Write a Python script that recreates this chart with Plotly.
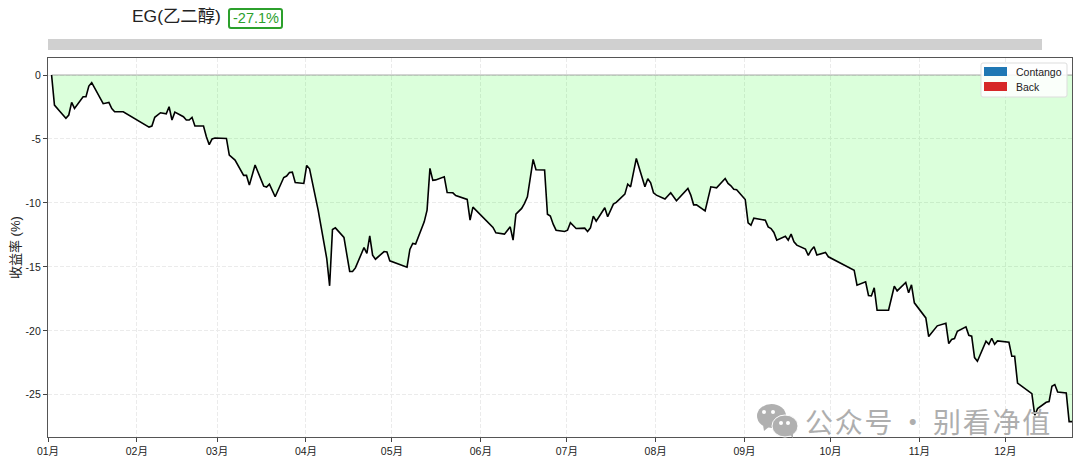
import pandas as pd
import plotly.graph_objects as go

YEAR_START = "2025-01-01"
YEAR_END = "2025-12-24 06:00"

trade_day = [
    1, 2, 4, 6, 7, 8, 9, 12, 13, 14, 15, 19, 21, 22, 23, 26,
    35, 36, 37, 39, 41, 42, 43, 44, 47, 48, 49, 50, 51, 54, 55, 56, 57, 58,
    62, 63, 65, 68, 69, 70, 72, 75, 76, 77, 79, 82, 83, 84, 85, 86, 89,
    90, 91, 94, 97, 98, 99, 100, 103, 105, 106, 107, 110, 111, 112, 113, 114, 117, 118, 119,
    125, 126, 127, 128, 131, 132, 133, 134, 135, 138, 139, 141, 142, 146, 147, 148,
    155, 156, 159, 161, 162, 163, 165, 166, 167, 169, 170, 173, 174, 175, 176, 177,
    180, 181, 182, 184, 187, 188, 189, 190, 191, 194, 195, 197, 198, 201, 202, 203, 205,
    208, 209, 210, 211, 212, 215, 216, 217, 219, 223, 224, 225, 226, 229, 231, 233,
    236, 237, 238, 239, 240, 243, 244, 245, 246, 250, 251, 252, 253, 254, 257, 258,
    259, 260, 261, 264, 265, 266, 267, 268, 271, 272, 281, 282, 285, 286, 287, 288, 289,
    293, 295, 296, 299, 300, 301, 302, 306, 307, 310, 313, 314, 315, 316, 317,
    320, 321, 322, 323, 324, 327, 328, 329, 330, 331, 335, 336, 337, 338,
    343, 344, 345, 348, 349, 350, 351, 352, 355, 356, 357,
]
cum_return = [
    0, -2.35, -2.87, -3.39, -3.13, -2.14, -2.61, -1.70, -1.70, -0.86, -0.60, -2.24, -2.14, -2.63, -2.87, -2.87,
    -4.07, -3.99, -3.31, -2.95, -3.03, -2.48, -3.52, -2.90, -3.26, -3.52, -3.52, -3.31, -3.99, -3.99, -4.83, -5.45, -5.00, -4.93,
    -4.96, -6.26, -6.65, -7.85, -7.85, -8.61, -7.04, -8.69, -8.76, -8.53, -9.52, -8.01, -7.90, -7.62, -7.59, -8.40, -8.48,
    -7.07, -7.33, -10.56, -14.35, -16.48, -12.08, -11.95, -12.70, -15.36, -15.36, -15.08, -13.49, -13.95, -12.57, -14.09, -14.40, -13.80, -13.83, -14.53,
    -15.02, -13.64, -13.17, -13.22, -11.48, -10.56, -7.30, -8.24, -8.20, -7.96, -9.18, -9.21, -9.42, -9.73, -11.35, -10.33,
    -11.92, -12.34, -12.44, -11.87, -12.91, -10.88, -10.43, -10.04, -9.52, -6.60, -7.41, -7.43, -10.88, -11.03, -11.66, -12.13,
    -12.23, -12.13, -11.55, -12.00, -11.97, -12.23, -11.95, -11.03, -11.43, -10.38, -11.08, -10.09, -9.96, -9.31, -8.53, -8.74, -6.52,
    -8.74, -8.11, -8.43, -9.21, -9.39, -9.70, -9.47, -9.21, -9.83, -8.87, -9.39, -10.15, -10.15, -10.62, -8.74, -8.82,
    -8.09, -8.48, -8.66, -8.94, -8.97, -9.73, -11.55, -11.74, -11.19, -11.35, -11.87, -12.00, -12.31, -12.91, -12.60, -12.91,
    -12.44, -13.04, -13.30, -13.61, -14.11, -13.69, -13.43, -14.08, -13.87, -14.21, -15.26, -16.43, -16.17, -17.24, -17.27, -16.64, -18.39,
    -18.39, -16.51, -16.88, -16.22, -17.03, -16.40, -17.81, -18.99, -20.45, -19.61, -19.41, -21.00, -20.68, -20.60, -20.03,
    -19.69, -20.35, -20.42, -22.09, -22.38, -20.81, -21.05, -20.58, -21.05, -20.79, -20.89, -21.99, -21.99, -24.08,
    -24.91, -26.60, -26.08, -25.59, -25.53, -24.33, -24.20, -24.78, -24.86, -27.10, -27.10,
]
month_starts = ["2025-%02d-01" % m for m in range(1, 13)]
month_labels = ["%02d月" % m for m in range(1, 13)]
y_ticks = [0, -5, -10, -15, -20, -25]
y_labels = ["0", "-5", "-10", "-15", "-20", "-25"]
legend_names = ["Contango", "Back"]
legend_colors = ["#1f77b4", "#d62728"]
title_text = "EG(乙二醇)"
badge_text = "-27.1%"
y_title = "收益率 (%)"
watermark_text = "公\u200a众\u200a号 · 别\u200a看\u200a净\u200a值"

W, H = 1080, 464
L, R, T, B = 48, 1072, 58, 437
FONT = "Liberation Sans, Arial, Noto Sans CJK SC, sans-serif"


def px(x):
    return (x - L) / (R - L)


def py(y):
    return (B - y) / (B - T)


def pc(d):
    return dict(type="path", xref="paper", yref="paper", layer="above", path=d)


def round_box(x0, y0, x1, y1, r):
    return " ".join([
        f"M {px(x0 + r)} {py(y0)}", f"L {px(x1 - r)} {py(y0)}", f"Q {px(x1)} {py(y0)} {px(x1)} {py(y0 + r)}",
        f"L {px(x1)} {py(y1 - r)}", f"Q {px(x1)} {py(y1)} {px(x1 - r)} {py(y1)}",
        f"L {px(x0 + r)} {py(y1)}", f"Q {px(x0)} {py(y1)} {px(x0)} {py(y1 - r)}",
        f"L {px(x0)} {py(y0 + r)}", f"Q {px(x0)} {py(y0)} {px(x0 + r)} {py(y0)} Z"])


def rect(x0, y0, x1, y1, color):
    return dict(type="rect", xref="paper", yref="paper", layer="above", x0=px(x0), x1=px(x1), y0=py(y1), y1=py(y0),
                fillcolor=color, line=dict(width=0))


def oval(x0, y0, x1, y1, color, outline=None):
    return dict(type="circle", xref="paper", yref="paper", layer="above", x0=px(x0), x1=px(x1), y0=py(y1), y1=py(y0),
                fillcolor=color, line=dict(color=outline, width=1) if outline else dict(width=0))


dates = pd.Timestamp(YEAR_START) + pd.to_timedelta(trade_day, unit="D") + pd.Timedelta(hours=6)

fig = go.Figure()
fig.add_trace(go.Scatter(x=dates, y=[0] * len(dates), mode="lines",
                         line=dict(color="#a8a8a8", width=1), showlegend=False, hoverinfo="skip"))
fig.add_trace(go.Scatter(x=dates, y=cum_return, mode="lines", fill="tonexty",
                         fillcolor="rgba(0,255,0,0.14)", line=dict(color="#000000", width=1.6),
                         showlegend=False))

ICON = "#b0b0b0"
shapes = [
    rect(L, 39, 1042, 50, "#d0d0d0"),
    dict(pc(round_box(229, 9, 282, 28, 2)), fillcolor="white", line=dict(color="#2ca02c", width=2)),
    # legend box and swatches
    dict(pc(round_box(981, 63, 1067, 97, 2)), fillcolor="rgba(255,255,255,0.85)", line=dict(color="#dddddd", width=1)),
    rect(984, 67, 1007, 76, legend_colors[0]),
    rect(984, 82, 1007, 91, legend_colors[1]),
    # watermark icon
    dict(pc(f"M {px(763)} {py(425)} L {px(764)} {py(431)} L {px(770)} {py(426)} Z"), fillcolor=ICON, line=dict(width=0)),
    oval(757, 404, 786, 428, ICON),
    oval(772, 415, 798, 437, ICON, "white"),
    dict(pc(f"M {px(788)} {py(433)} L {px(793)} {py(438)} L {px(793)} {py(431)} Z"), fillcolor=ICON, line=dict(width=0)),
    oval(762, 410, 766, 414, "white"),
    oval(771, 410, 775, 414, "white"),
    oval(779, 421, 783, 425, "white"),
    oval(786, 421, 790, 425, "white"),
]

annotations = [
    dict(text=title_text, xref="paper", yref="paper", x=px(130), y=py(16), xanchor="left", yanchor="middle",
         showarrow=False, font=dict(size=17.4, color="#222222", family=FONT)),
    dict(text=badge_text, xref="paper", yref="paper", x=px(255.5), y=py(18), xanchor="center", yanchor="middle",
         showarrow=False, font=dict(size=14.5, color="#2ca02c", family=FONT)),
    dict(text=legend_names[0], xref="paper", yref="paper", x=px(1014), y=py(72), xanchor="left", yanchor="middle",
         showarrow=False, font=dict(size=10.5, color="#222222", family=FONT)),
    dict(text=legend_names[1], xref="paper", yref="paper", x=px(1014), y=py(87), xanchor="left", yanchor="middle",
         showarrow=False, font=dict(size=10.5, color="#222222", family=FONT)),
    dict(text=y_title, xref="paper", yref="paper", x=px(15), y=py(248), xanchor="center", yanchor="middle",
         textangle=-90, showarrow=False, font=dict(size=13, color="#222222", family=FONT)),
    dict(text=watermark_text, xref="paper", yref="paper", x=px(803), y=py(421), xanchor="left", yanchor="middle",
         showarrow=False, font=dict(size=28, color="#aeaeae", family="Noto Sans CJK SC, sans-serif")),
]

fig.update_layout(
    width=W, height=H, autosize=False, showlegend=False,
    margin=dict(l=L, r=W - R, t=T, b=H - B, pad=0),
    paper_bgcolor="white", plot_bgcolor="white",
    font=dict(family=FONT, size=10.5, color="#222222"),
    shapes=shapes, annotations=annotations,
    xaxis=dict(type="date", range=[YEAR_START, YEAR_END], tickmode="array", tickvals=month_starts, ticktext=month_labels,
               showgrid=True, gridcolor="#ebebeb", griddash="4px,2px", gridwidth=1, automargin=False,
               ticks="outside", ticklen=4, tickcolor="#444444", tickfont=dict(size=10.5),
               showline=True, linecolor="#555555", linewidth=1.2, mirror=True, zeroline=False),
    yaxis=dict(range=[-28.3, 1.33], tickmode="array", tickvals=y_ticks, ticktext=y_labels,
               showgrid=True, gridcolor="#ebebeb", griddash="4px,2px", gridwidth=1, automargin=False,
               ticks="outside", ticklen=4, tickcolor="#444444", tickfont=dict(size=10.5),
               showline=True, linecolor="#555555", linewidth=1.2, mirror=True, zeroline=False),
)

fig.write_html("out.html", config={"displayModeBar": False},
               post_script="document.body.style.margin='0';document.body.style.overflow='hidden';")
